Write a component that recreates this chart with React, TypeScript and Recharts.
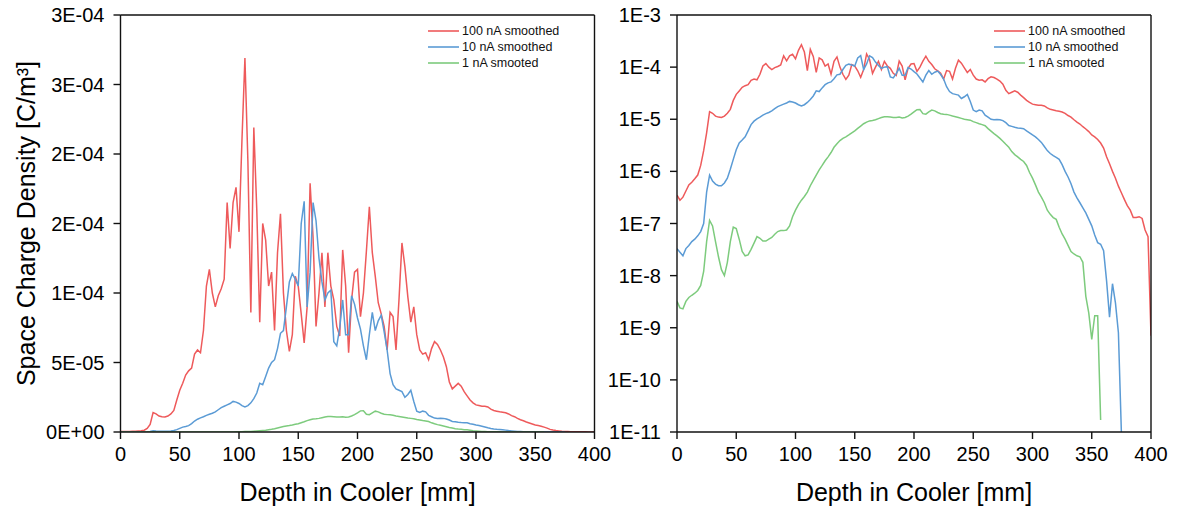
import React from 'react';
import { LineChart, Line, XAxis, YAxis, Legend } from 'recharts';

// depth sampled every 2.5 mm along the cooler
const depth: number[] = Array.from({ length: 161 }, (_, i) => i * 2.5);

const smoothed100nA = [
  3.5e-7, 2.8e-7, 3.2e-7, 4.2e-7, 5.5e-7, 6.2e-7, 7.2e-7, 8.5e-7, 1.3e-6, 2.5e-6,
  5.5e-6, 1.4e-5, 1.3e-5, 1.15e-5, 1.1e-5, 1.08e-5, 1.15e-5, 1.3e-5, 1.55e-5, 2.3e-5,
  3.0e-5, 3.5e-5, 4.1e-5, 4.4e-5, 4.6e-5, 5.6e-5, 5.9e-5, 5.7e-5, 7.3e-5, 1.05e-4,
  1.17e-4, 1.0e-4, 9.0e-5, 9.8e-5, 1.03e-4, 1.1e-4, 1.65e-4, 1.32e-4, 1.65e-4, 1.76e-4,
  1.44e-4, 2.1e-4, 2.69e-4, 1.95e-4, 8.6e-5, 2.19e-4, 1.6e-4, 7.9e-5, 1.5e-4, 1.38e-4,
  1.05e-4, 1.15e-4, 7.3e-5, 1.29e-4, 1.57e-4, 1.0e-4, 7.3e-5, 5.8e-5, 7.0e-5, 1.12e-4,
  1.05e-4, 8.5e-5, 6.4e-5, 9.0e-5, 1.79e-4, 1.4e-4, 7.6e-5, 1.0e-4, 1.29e-4, 9.0e-5,
  1.29e-4, 1.05e-4, 9.5e-5, 7.6e-5, 6.9e-5, 1.31e-4, 1.05e-4, 5.7e-5, 9.5e-5, 1.15e-4,
  1.17e-4, 8.3e-5, 1.0e-4, 1.3e-4, 1.62e-4, 1.29e-4, 1.12e-4, 9.3e-5, 8.5e-5, 7.6e-5,
  5.9e-5, 8.6e-5, 8.3e-5, 5.9e-5, 9.5e-5, 1.36e-4, 1.19e-4, 9.7e-5, 7.9e-5, 9.0e-5,
  7.0e-5, 5.9e-5, 5.6e-5, 5.7e-5, 5.2e-5, 6.0e-5, 6.5e-5, 6.3e-5, 5.9e-5, 5.4e-5,
  4.7e-5, 3.6e-5, 3.1e-5, 3.3e-5, 3.5e-5, 3.3e-5, 2.9e-5, 2.6e-5, 2.3e-5, 2.1e-5,
  1.95e-5, 1.9e-5, 1.85e-5, 1.85e-5, 1.8e-5, 1.65e-5, 1.55e-5, 1.5e-5, 1.45e-5, 1.42e-5,
  1.38e-5, 1.3e-5, 1.18e-5, 1.1e-5, 9.8e-6, 8.8e-6, 8.1e-6, 7.2e-6, 6.5e-6, 5.8e-6,
  5.0e-6, 4.6e-6, 4.1e-6, 3.5e-6, 2.8e-6, 1.9e-6, 1.4e-6, 1.0e-6, 7.4e-7, 5.2e-7,
  3.9e-7, 2.9e-7, 2.2e-7, 1.8e-7, 1.3e-7, 1.3e-7, 1.35e-7, 1.25e-7, 7.5e-8, 5.6e-8,
  7e-10,
];

const smoothed10nA = [
  3.3e-8, 2.8e-8, 2.4e-8, 3.3e-8, 3.8e-8, 4.5e-8, 5.0e-8, 5.8e-8, 7.0e-8, 1.0e-7,
  4.0e-7, 8.5e-7, 6.5e-7, 5.7e-7, 5.3e-7, 5.3e-7, 6.0e-7, 7.4e-7, 1.1e-6, 1.7e-6,
  2.6e-6, 3.5e-6, 4.0e-6, 4.6e-6, 6.0e-6, 7.9e-6, 9.2e-6, 1.02e-5, 1.1e-5, 1.2e-5,
  1.28e-5, 1.35e-5, 1.45e-5, 1.6e-5, 1.75e-5, 1.85e-5, 1.95e-5, 2.05e-5, 2.2e-5, 2.15e-5,
  2.05e-5, 1.9e-5, 1.8e-5, 1.9e-5, 2.1e-5, 2.4e-5, 2.8e-5, 3.5e-5, 3.4e-5, 4.0e-5,
  4.6e-5, 5.0e-5, 5.2e-5, 6.0e-5, 7.1e-5, 7.3e-5, 9.0e-5, 1.08e-4, 1.14e-4, 1.1e-4,
  1.05e-4, 1.5e-4, 1.66e-4, 9.0e-5, 1.15e-4, 1.65e-4, 1.52e-4, 1.25e-4, 1.08e-4, 9.5e-5,
  1.0e-4, 1.02e-4, 6.5e-5, 6.2e-5, 7.5e-5, 9.5e-5, 7.0e-5, 7.0e-5, 9.8e-5, 9.2e-5,
  8.2e-5, 7.4e-5, 6.2e-5, 5.2e-5, 7.0e-5, 8.6e-5, 7.3e-5, 8.0e-5, 8.4e-5, 7.2e-5,
  5.9e-5, 4.2e-5, 3.4e-5, 3.1e-5, 3.0e-5, 2.9e-5, 2.5e-5, 2.7e-5, 3.0e-5, 2.2e-5,
  1.5e-5, 1.4e-5, 1.5e-5, 1.45e-5, 1.2e-5, 1.1e-5, 1.0e-5, 9.8e-6, 9.9e-6, 9.8e-6,
  9.4e-6, 8.6e-6, 7.6e-6, 7.3e-6, 7.0e-6, 6.8e-6, 6.7e-6, 6.6e-6, 6.0e-6, 5.5e-6,
  5.0e-6, 4.6e-6, 4.1e-6, 3.6e-6, 3.0e-6, 2.5e-6, 2.2e-6, 2.0e-6, 1.85e-6, 1.7e-6,
  1.35e-6, 1.0e-6, 7.8e-7, 5.8e-7, 4.0e-7, 3.1e-7, 2.5e-7, 2.0e-7, 1.6e-7, 1.2e-7,
  9.0e-8, 6.0e-8, 4.3e-8, 4.0e-8, 3.0e-8, 8.0e-9, 1.6e-9, 7.0e-9, 3.0e-9, 8.0e-10,
  1e-11,
];

const smooted1nA = [
  3.2e-9, 2.4e-9, 2.3e-9, 3.2e-9, 3.8e-9, 4.2e-9, 4.6e-9, 5.2e-9, 6.5e-9, 1.2e-8,
  4.5e-8, 1.15e-7, 9.0e-8, 4.5e-8, 2.3e-8, 1.3e-8, 1.0e-8, 1.8e-8, 4.5e-8, 8.5e-8,
  8.0e-8, 5.0e-8, 2.9e-8, 2.4e-8, 2.5e-8, 3.2e-8, 4.2e-8, 5.6e-8, 5.2e-8, 4.6e-8,
  4.6e-8, 5.0e-8, 5.4e-8, 6.2e-8, 7.0e-8, 7.3e-8, 7.3e-8, 7.5e-8, 9.0e-8, 1.35e-7,
  1.8e-7, 2.3e-7, 2.8e-7, 3.3e-7, 4.0e-7, 5.3e-7, 6.7e-7, 8.5e-7, 1.07e-6, 1.3e-6,
  1.6e-6, 1.9e-6, 2.3e-6, 2.9e-6, 3.4e-6, 3.9e-6, 4.3e-6, 4.6e-6, 5.0e-6, 5.5e-6,
  6.0e-6, 6.7e-6, 7.4e-6, 8.2e-6, 8.8e-6, 9.3e-6, 9.5e-6, 9.8e-6, 1.03e-5, 1.08e-5,
  1.12e-5, 1.12e-5, 1.1e-5, 1.08e-5, 1.08e-5, 1.1e-5, 1.06e-5, 1.08e-5, 1.15e-5, 1.25e-5,
  1.38e-5, 1.52e-5, 1.53e-5, 1.28e-5, 1.25e-5, 1.38e-5, 1.5e-5, 1.45e-5, 1.35e-5, 1.28e-5,
  1.25e-5, 1.24e-5, 1.2e-5, 1.15e-5, 1.12e-5, 1.08e-5, 1.04e-5, 1.0e-5, 9.8e-6, 9.6e-6,
  9.0e-6, 8.6e-6, 8.2e-6, 7.9e-6, 7.5e-6, 6.6e-6, 5.9e-6, 5.3e-6, 4.8e-6, 4.3e-6,
  3.8e-6, 3.3e-6, 2.9e-6, 2.4e-6, 2.1e-6, 1.9e-6, 1.7e-6, 1.55e-6, 1.3e-6, 9.5e-7,
  7.4e-7, 5.5e-7, 4.0e-7, 3.2e-7, 2.5e-7, 1.8e-7, 1.5e-7, 1.3e-7, 1.2e-7, 8.5e-8,
  6.3e-8, 5.0e-8, 3.8e-8, 2.9e-8, 2.6e-8, 2.4e-8, 2.3e-8, 1.8e-8, 4.0e-9, 1.9e-9,
  6.0e-10, 1.7e-9, 1.7e-9, 1.7e-11,
];

const seriesKeys = ['a100', 'a10', 'a1'];
const seriesNames = ['100 nA smoothed', '10 nA smoothed', '1 nA smooted'];
const seriesColors = ['#EE5A5B', '#5B9BD5', '#7DCB7D'];

const depthTicks = [0, 50, 100, 150, 200, 250, 300, 350, 400];
const depthMinorTicks = [25, 75, 125, 175, 225, 275, 325, 375];

const linearTicks = [0, 5e-5, 1e-4, 1.5e-4, 2e-4, 2.5e-4, 3e-4];
const linearTickLabels = ['0E+00', '5E-05', '1E-04', '2E-04', '2E-04', '3E-04', '3E-04'];
const linearMinorTicks = [2.5e-5, 7.5e-5, 1.25e-4, 1.75e-4, 2.25e-4, 2.75e-4];

const logTicks = [1e-11, 1e-10, 1e-9, 1e-8, 1e-7, 1e-6, 1e-5, 1e-4, 1e-3];
const logTickLabels = ['1E-11', '1E-10', '1E-9', '1E-8', '1E-7', '1E-6', '1E-5', '1E-4', '1E-3'];
// 2..9 within every decade
const logMinorTicks: number[] = [];
logTicks.slice(0, -1).forEach((d) => {
  for (let m = 2; m <= 9; m++) logMinorTicks.push(d * m);
});

const rows = depth.map((d, i) => ({
  depth: d,
  a100: smoothed100nA[i] ?? null,
  a10: smoothed10nA[i] ?? null,
  a1: smooted1nA[i] ?? null,
}));

const FONT = "'Liberation Sans', Arial, Helvetica, sans-serif";
const INK = '#111';
const axisStyle = { stroke: INK, strokeWidth: 1.4 };
// axes of zero size are skipped by recharts, so the helper axes get a hair of room
const HAIR = 0.01;

const LegendBox = ({ payload }: any) => {
  const items = [...(payload || [])]
    .filter((e: any) => seriesNames.includes(e.value))
    .sort((a: any, b: any) => seriesNames.indexOf(a.value) - seriesNames.indexOf(b.value));
  return (
    <div style={{ fontFamily: FONT, fontSize: 12.5, color: '#111' }}>
      {items.map((e: any) => (
        <div key={e.value} style={{ display: 'flex', alignItems: 'center', height: 16 }}>
          <svg width={31} height={4} style={{ marginRight: 3 }}>
            <line x1={0} y1={2} x2={31} y2={2} stroke={e.color} strokeWidth={1.6} />
          </svg>
          <span>{e.value}</span>
        </div>
      ))}
    </div>
  );
};

interface PanelProps {
  log: boolean;
  left: number;
  width: number;
  yWidth: number;
  marginRight: number;
  legendLeft: number;
}

const Panel: React.FC<PanelProps> = ({ log, left, width, yWidth, marginRight, legendLeft }) => {
  const yTicks = log ? logTicks : linearTicks;
  const yLabels = log ? logTickLabels : linearTickLabels;
  const yDomain: [number, number] = log ? [1e-11, 1e-3] : [0, 3e-4];
  const scale = log ? 'log' : 'linear';

  return (
    <div style={{ position: 'absolute', left, top: 0 }}>
      <LineChart
        width={width}
        height={511}
        data={rows}
        margin={{ top: 15 - HAIR, right: marginRight - HAIR, bottom: 0, left: 0 }}
      >
        {/* minor ticks first so they sit on the plot edge */}
        <XAxis
          xAxisId="minor"
          dataKey="depth"
          type="number"
          domain={[0, 400]}
          allowDataOverflow
          ticks={depthMinorTicks}
          height={HAIR}
          tick={false}
          tickSize={4}
          tickLine={axisStyle}
          axisLine={false}
        />
        <XAxis
          xAxisId="main"
          dataKey="depth"
          type="number"
          domain={[0, 400]}
          allowDataOverflow
          ticks={depthTicks}
          height={79 - HAIR}
          tickSize={7}
          tickMargin={8}
          tickLine={axisStyle}
          axisLine={axisStyle}
          tick={{ fill: '#000', fontSize: 20, fontFamily: FONT }}
          label={{
            value: 'Depth in Cooler [mm]',
            position: 'insideBottom',
            offset: 10,
            fill: '#000',
            fontSize: 25,
            fontFamily: FONT,
          }}
        />
        <XAxis
          xAxisId="top"
          dataKey="depth"
          orientation="top"
          type="number"
          domain={[0, 400]}
          allowDataOverflow
          height={HAIR}
          tick={false}
          tickLine={false}
          axisLine={axisStyle}
        />
        <YAxis
          yAxisId="minor"
          type="number"
          scale={scale}
          domain={yDomain}
          allowDataOverflow
          ticks={log ? logMinorTicks : linearMinorTicks}
          width={HAIR}
          tick={false}
          tickSize={4}
          tickLine={axisStyle}
          axisLine={false}
        />
        <YAxis
          yAxisId="main"
          type="number"
          scale={scale}
          domain={yDomain}
          allowDataOverflow
          ticks={yTicks}
          tickFormatter={(_v: number, i: number) => yLabels[i]}
          width={yWidth - HAIR}
          tickSize={7}
          tickMargin={9}
          tickLine={axisStyle}
          axisLine={axisStyle}
          tick={{ fill: '#000', fontSize: 20, fontFamily: FONT }}
          label={
            log
              ? undefined
              : {
                  value: 'Space Charge Density [C/m³]',
                  angle: -90,
                  position: 'insideLeft',
                  offset: 26,
                  fill: '#000',
                  fontSize: 25,
                  fontFamily: FONT,
                  style: { textAnchor: 'middle' },
                }
          }
        />
        <YAxis
          yAxisId="right"
          orientation="right"
          type="number"
          scale={scale}
          domain={yDomain}
          allowDataOverflow
          width={HAIR}
          tick={false}
          tickLine={false}
          axisLine={axisStyle}
        />
        {seriesKeys.map((key, i) => (
          <Line
            key={key}
            xAxisId="main"
            yAxisId="main"
            dataKey={key}
            name={seriesNames[i]}
            stroke={seriesColors[i]}
            strokeWidth={1.5}
            dot={false}
            type="linear"
            legendType="plainline"
            isAnimationActive={false}
          />
        ))}
        {/* invisible series that keep the minor-tick and frame axes tied to the data */}
        <Line
          xAxisId="minor"
          yAxisId="minor"
          dataKey="a100"
          stroke="none"
          strokeOpacity={0}
          dot={false}
          activeDot={false}
          legendType="none"
          isAnimationActive={false}
        />
        <Line
          xAxisId="top"
          yAxisId="right"
          dataKey="a100"
          stroke="none"
          strokeOpacity={0}
          dot={false}
          activeDot={false}
          legendType="none"
          isAnimationActive={false}
        />
        <Legend
          layout="horizontal"
          align="center"
          verticalAlign="middle"
          wrapperStyle={{ top: 22.5, left: legendLeft, width: 'auto', height: 'auto' }}
          content={<LegendBox />}
        />
      </LineChart>
    </div>
  );
};

export default function App() {
  return (
    <div style={{ position: 'absolute', left: 0, top: 0, width: 1177, height: 511, background: '#fff' }}>
      <Panel log={false} left={0} width={620} yWidth={120.5} marginRight={25.5} legendLeft={428} />
      <Panel log={true} left={590} width={587} yWidth={87} marginRight={26} legendLeft={404} />
    </div>
  );
}
